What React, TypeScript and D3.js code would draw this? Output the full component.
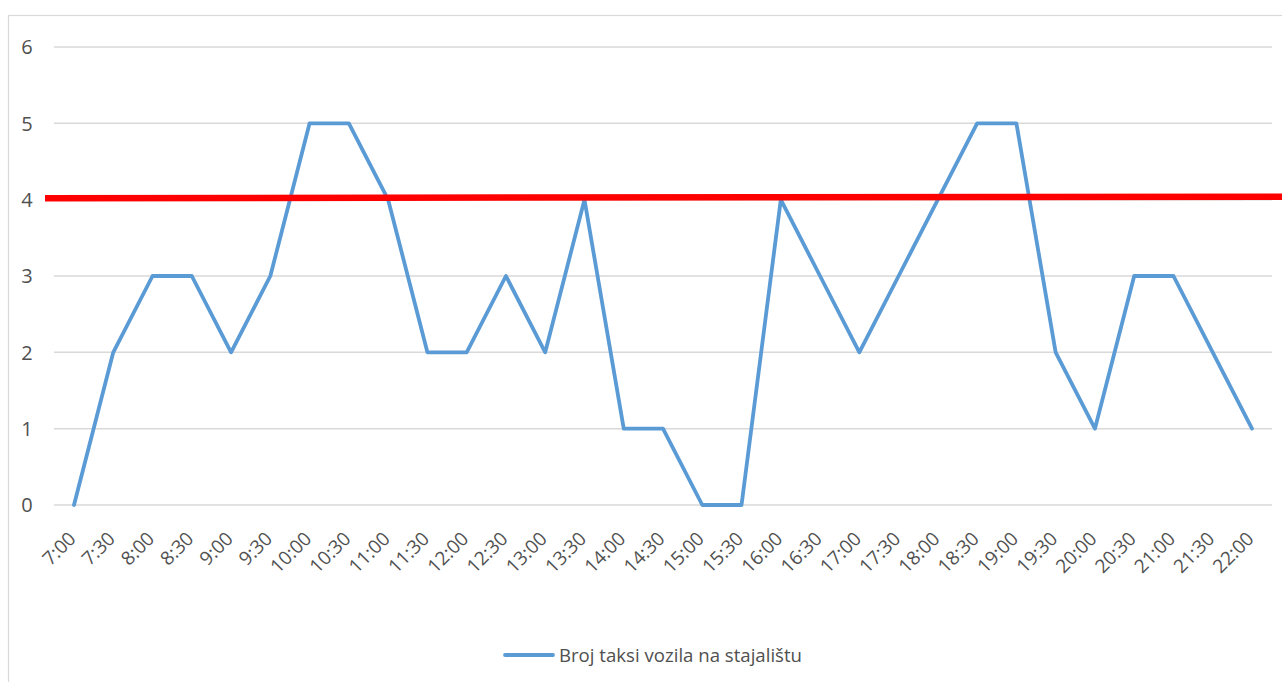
import React from "react";
import * as d3 from "d3";

const categories = ["7:00","7:30","8:00","8:30","9:00","9:30","10:00","10:30","11:00","11:30","12:00","12:30","13:00","13:30","14:00","14:30","15:00","15:30","16:00","16:30","17:00","17:30","18:00","18:30","19:00","19:30","20:00","20:30","21:00","21:30","22:00"];
const values = [0,2,3,3,2,3,5,5,4,2,2,3,2,4,1,1,0,0,4,3,2,3,4,5,5,2,1,3,3,2,1];
const yTicks = [0,1,2,3,4,5,6];
const thresholdValue = 4;
const seriesName = "Broj taksi vozila na stajalištu";

export default function App() {
  const W = 1282, H = 682;
  const x = d3.scalePoint<string>().domain(categories).range([74, 1252]);
  const y = d3.scaleLinear().domain([0, 6]).range([505, 47]);
  const line = d3.line<number>().x((_, i) => x(categories[i]) as number).y((d) => y(d));
  const font = "'Open Sans', 'Noto Sans', sans-serif";
  return (
    <svg width={W} height={H} style={{ position: "absolute", left: 0, top: 0, background: "#fff" }}>
      <rect x={8.5} y={15.5} width={W + 10} height={H + 10} fill="#fff" stroke="#d9d9d9" strokeWidth={1.2} />
      {yTicks.map((t) => (
        <g key={t}>
          <line x1={54} x2={1272} y1={y(t)} y2={y(t)} stroke="#d9d9d9" strokeWidth={1.5} />
          <text x={27} y={y(t)} dy="0.36em" textAnchor="middle" fontSize={20} fill="#505050" fontFamily={font}>{t}</text>
        </g>
      ))}
      {categories.map((c) => {
        const cx = x(c) as number;
        return (
          <text key={c} transform={`translate(${cx + 3},${540}) rotate(-45)`} textAnchor="end" fontSize={19} fill="#505050" fontFamily={font}>{c}</text>
        );
      })}
      <path d={line(values) || ""} fill="none" stroke="#5B9BD5" strokeWidth={3.8} strokeLinejoin="round" strokeLinecap="round" />
      <line x1={45} x2={1282} y1={y(thresholdValue) - 1.5} y2={y(thresholdValue) - 3} stroke="#FF0000" strokeWidth={6.5} />
      <line x1={505} x2={553} y1={655} y2={655} stroke="#5B9BD5" strokeWidth={3.8} strokeLinecap="round" />
      <text x={559} y={655} dy="0.36em" fontSize={19} fill="#505050" fontFamily={font} textLength={243} lengthAdjust="spacingAndGlyphs">{seriesName}</text>
    </svg>
  );
}
